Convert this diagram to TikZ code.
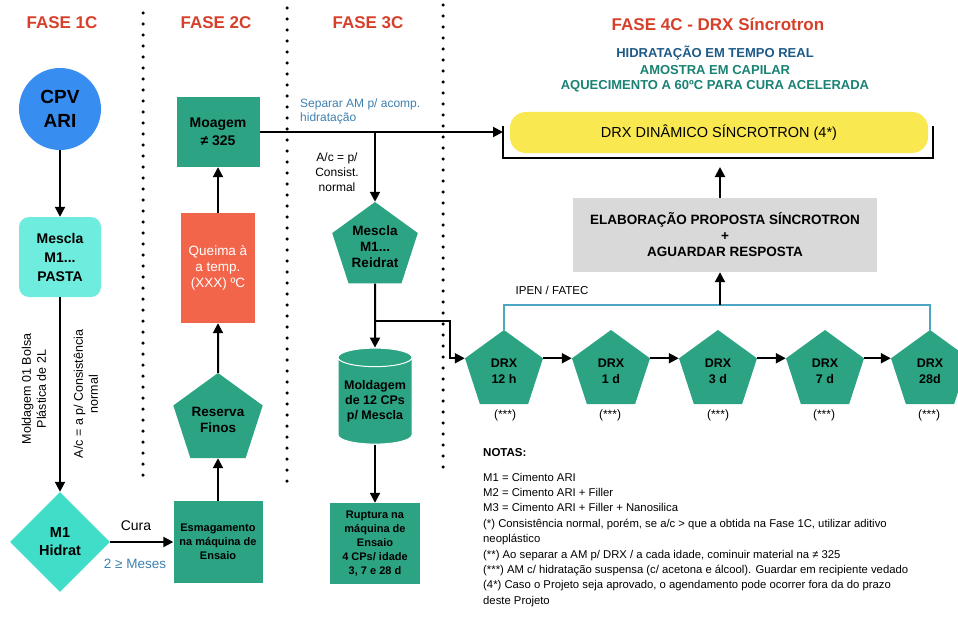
\documentclass[tikz,border=0pt]{standalone}
\usepackage{fontspec}
\setmainfont{Liberation Sans}
\usepackage{xcolor}
\usetikzlibrary{shapes,arrows.meta,calc}

\definecolor{faseRed}{RGB}{214,64,42}
\definecolor{subBlue}{RGB}{30,90,135}
\definecolor{subTeal}{RGB}{25,130,115}
\definecolor{tealA}{RGB}{44,164,132}
\definecolor{pastaCyan}{RGB}{110,236,222}
\definecolor{hidratCyan}{RGB}{64,222,200}
\definecolor{cpvBlue}{RGB}{56,142,240}
\definecolor{queimaRed}{RGB}{242,101,75}
\definecolor{dynYellow}{RGB}{249,232,80}
\definecolor{elabGray}{RGB}{217,217,217}
\definecolor{ipenBlue}{RGB}{75,165,195}
\definecolor{textBlue}{RGB}{62,128,175}

\begin{document}
\begin{tikzpicture}[x=1pt,y=-1pt]
        \tikzstyle{fase}   = [text=faseRed, font=\fontsize{17}{20}\selectfont\bfseries]
        \tikzstyle{sub}    = [font=\fontsize{13}{15}\selectfont\bfseries]
        \tikzstyle{tealbox}= [rectangle, fill=tealA, inner sep=0pt, align=center, font=\fontsize{14}{18}\selectfont\bfseries]
        \tikzstyle{smallbox}= [tealbox, font=\fontsize{11}{14}\selectfont\bfseries]
        \tikzstyle{penta}  = [regular polygon, regular polygon sides=5, fill=tealA, inner sep=0pt, align=center, font=\fontsize{13.5}{16}\selectfont\bfseries]
        \tikzstyle{drx}    = [penta, minimum size=82pt, font=\fontsize{12.5}{16}\selectfont\bfseries]
        \tikzstyle{lbl}    = [inner sep=0pt, align=center, font=\fontsize{12}{15}\selectfont]
        \tikzstyle{note}   = [anchor=base west, inner sep=0pt, font=\fontsize{11.3}{14}\selectfont]
        \tikzstyle{arrow}  = [-{Triangle[length=10pt,width=10pt]}, line width=2pt]
        \tikzstyle{dots}   = [line width=3.5pt, line cap=round, dash pattern=on 0pt off 11pt]
        \useasboundingbox (0,0) rectangle (958,623);
        %%Phase titles
        \node [fase](f1) at (62,23) {FASE 1C};
        \node [fase](f2) at (216,23) {FASE 2C};
        \node [fase](f3) at (368,23) {FASE 3C};
        \node [fase](f4) at (718,24) {FASE 4C - DRX Síncrotron};
        \node [sub, text=subBlue](t1) at (715,53) {HIDRATAÇÃO EM TEMPO REAL};
        \node [sub, text=subTeal](t2) at (715,70) {AMOSTRA EM CAPILAR};
        \node [sub, text=subTeal](t3) at (715,86) {AQUECIMENTO A 60ºC PARA CURA ACELERADA};
        %%Separators
        \draw [dots] (143,13) -- (143,485);
        \draw [dots] (287,8) -- (287,483);
        \draw [dots] (443,5) -- (443,478);
        %%Fase 1C
        \node [circle, fill=cpvBlue, minimum size=82pt, inner sep=0pt, align=center, font=\fontsize{19}{24}\selectfont\bfseries](cpv) at (60,109) {CPV\\ARI};
        \node [rectangle, rounded corners=10pt, fill=pastaCyan, minimum width=82pt, minimum height=80pt, inner sep=0pt, align=center, font=\fontsize{14}{19}\selectfont\bfseries](mpasta) at (60,257) {Mescla\\M1...\\PASTA};
        \node [diamond, fill=hidratCyan, minimum width=100pt, minimum height=100pt, inner sep=0pt, align=center, font=\fontsize{14.5}{18}\selectfont\bfseries](hidrat) at (60,542) {M1\\Hidrat};
        \node [lbl, rotate=90, font=\fontsize{12.5}{15}\selectfont](bolsa) at (34,389) {Moldagem 01 Bolsa\\Plástica de 2L};
        \node [lbl, rotate=90, font=\fontsize{12.5}{15}\selectfont](consist) at (86,394) {A/c = a p/ Consistência\\normal};
        \node [lbl, font=\fontsize{14}{16}\selectfont](cura) at (136,526) {Cura};
        \node [lbl, text=textBlue, font=\fontsize{13.5}{16}\selectfont](meses) at (135,564) {2 ≥ Meses};
        %%Fase 2C
        \node [tealbox, minimum width=83pt, minimum height=70pt](moagem) at (218,132) {Moagem\\≠ 325};
        \node [rectangle, fill=queimaRed, text=white, minimum width=74pt, minimum height=110pt, inner sep=0pt, align=center, font=\fontsize{13.5}{16}\selectfont](queima) at (218,268) {Queima à\\a temp.\\(XXX) ºC};
        \node [penta, minimum size=94pt](reserva) at (218,420) {Reserva\\Finos};
        \node [smallbox, minimum width=89pt, minimum height=82pt](esmag) at (218,542) {Esmagamento\\na máquina de\\Ensaio};
        %%Fase 3C
        \node [lbl, anchor=west, align=left, text=textBlue, font=\fontsize{12}{13.5}\selectfont](separar) at (300,111.5) {Separar AM p/ acomp.\\hidratação};
        \node [lbl](acp) at (337,172) {A/c = p/\\Consist.\\normal};
        \node [penta, minimum size=90pt](reidrat) at (375,247) {Mescla\\M1...\\Reidrat};
        \node [cylinder, shape border rotate=90, aspect=0.3, minimum width=74pt, minimum height=96pt, inner sep=0pt,
               cylinder uses custom fill, cylinder body fill=tealA, cylinder end fill=tealA, draw=white, line width=1pt,
               align=center, font=\fontsize{12.5}{15}\selectfont\bfseries](cyl) at (375,401) {Moldagem\\de 12 CPs\\p/ Mescla};
        \node [smallbox, minimum width=90pt, minimum height=81pt](ruptura) at (375,543.5) {Ruptura na\\máquina de\\Ensaio\\4 CPs/ idade\\3, 7 e 28 d};
        %%Fase 4C
        \node [rectangle, rounded corners=16pt, fill=dynYellow, minimum width=418pt, minimum height=41pt, inner sep=0pt, font=\fontsize{14.5}{17}\selectfont](dyn) at (719,132.5) {DRX DINÂMICO SÍNCROTRON (4*)};
        \coordinate (bktLtop) at (503,126);
        \coordinate (bktLbot) at (503,158);
        \coordinate (bktRbot) at (933,158);
        \coordinate (bktRtop) at (933,126);
        \node [rectangle, fill=elabGray, minimum width=304pt, minimum height=74pt, inner sep=0pt, align=center, font=\fontsize{13.5}{16}\selectfont\bfseries](elab) at (725,235) {ELABORAÇÃO PROPOSTA SÍNCROTRON\\+\\AGUARDAR RESPOSTA};
        \coordinate (elabtop) at (720,167);
        \coordinate (ipen) at (720,305);
        \node [lbl, font=\fontsize{11.5}{14}\selectfont](ipenlbl) at (552,290) {IPEN / FATEC};
        \node [drx](d12) at (504,371) {DRX\\12 h};
        \node [drx](d1) at (611,371) {DRX\\1 d};
        \node [drx](d3) at (718,371) {DRX\\3 d};
        \node [drx](d7) at (825,371) {DRX\\7 d};
        \node [drx](d28) at (930,371) {DRX\\28d};
        \node [lbl](s12) at (505,415) {(***)};
        \node [lbl](s1) at (610,415) {(***)};
        \node [lbl](s3) at (718,415) {(***)};
        \node [lbl](s7) at (824,415) {(***)};
        \node [lbl](s28) at (929,415) {(***)};
        \coordinate (branch) at (375,321);
        \coordinate (bend) at (450,321);
        %%Notes
        \node [note, font=\fontsize{11.5}{14}\selectfont\bfseries](notas) at (483,456) {NOTAS:};
        \node [note](n1) at (483,481) {M1 = Cimento ARI};
        \node [note](n2) at (483,496.4) {M2 = Cimento ARI + Filler};
        \node [note](n3) at (483,511.8) {M3 = Cimento ARI + Filler + Nanosilica};
        \node [note](n4) at (483,527.2) {(*) Consistência normal, porém, se a/c > que a obtida na Fase 1C, utilizar aditivo};
        \node [note](n5) at (483,542.6) {neoplástico};
        \node [note](n6) at (483,558) {(**) Ao separar a AM p/ DRX / a cada idade, cominuir material na ≠ 325};
        \node [note](n7) at (483,573.4) {(***) AM c/ hidratação suspensa (c/ acetona e álcool). Guardar em recipiente vedado};
        \node [note](n8) at (483,588.8) {(4*) Caso o Projeto seja aprovado, o agendamento pode ocorrer fora da do prazo};
        \node [note](n9) at (483,604.2) {deste Projeto};
        %%Edges
        \draw [arrow] (cpv) -- (mpasta);
        \draw [arrow] (mpasta) -- (hidrat);
        \draw [arrow] (hidrat) -- (esmag);
        \draw [arrow] (esmag) -- (reserva);
        \draw [arrow] (reserva) -- (queima);
        \draw [arrow] (queima) -- (moagem);
        \draw [arrow] (moagem.east) -- (moagem.east -| bktLtop);
        \draw [arrow] (moagem.east -| reidrat.north) -- (reidrat.north);
        \draw [arrow] (reidrat.south) -- (cyl.north);
        \draw [arrow] (cyl.south) -- (ruptura.north);
        \draw [arrow] (branch) -- (bend) |- (d12.corner 2);
        \draw [line width=2pt] (bktLtop) -- (bktLbot) -- (bktRbot) -- (bktRtop);
        \draw [arrow] (d12.corner 5) -- (d1.corner 2);
        \draw [arrow] (d1.corner 5) -- (d3.corner 2);
        \draw [arrow] (d3.corner 5) -- (d7.corner 2);
        \draw [arrow] (d7.corner 5) -- (d28.corner 2);
        \draw [ipenBlue, line width=2pt] (d12.north) |- (ipen) -| (d28.north);
        \draw [arrow] (ipen) -- (ipen |- elab.south);
        \draw [arrow] (ipen |- elab.north) -- (elabtop);
\end{tikzpicture}
\end{document}
